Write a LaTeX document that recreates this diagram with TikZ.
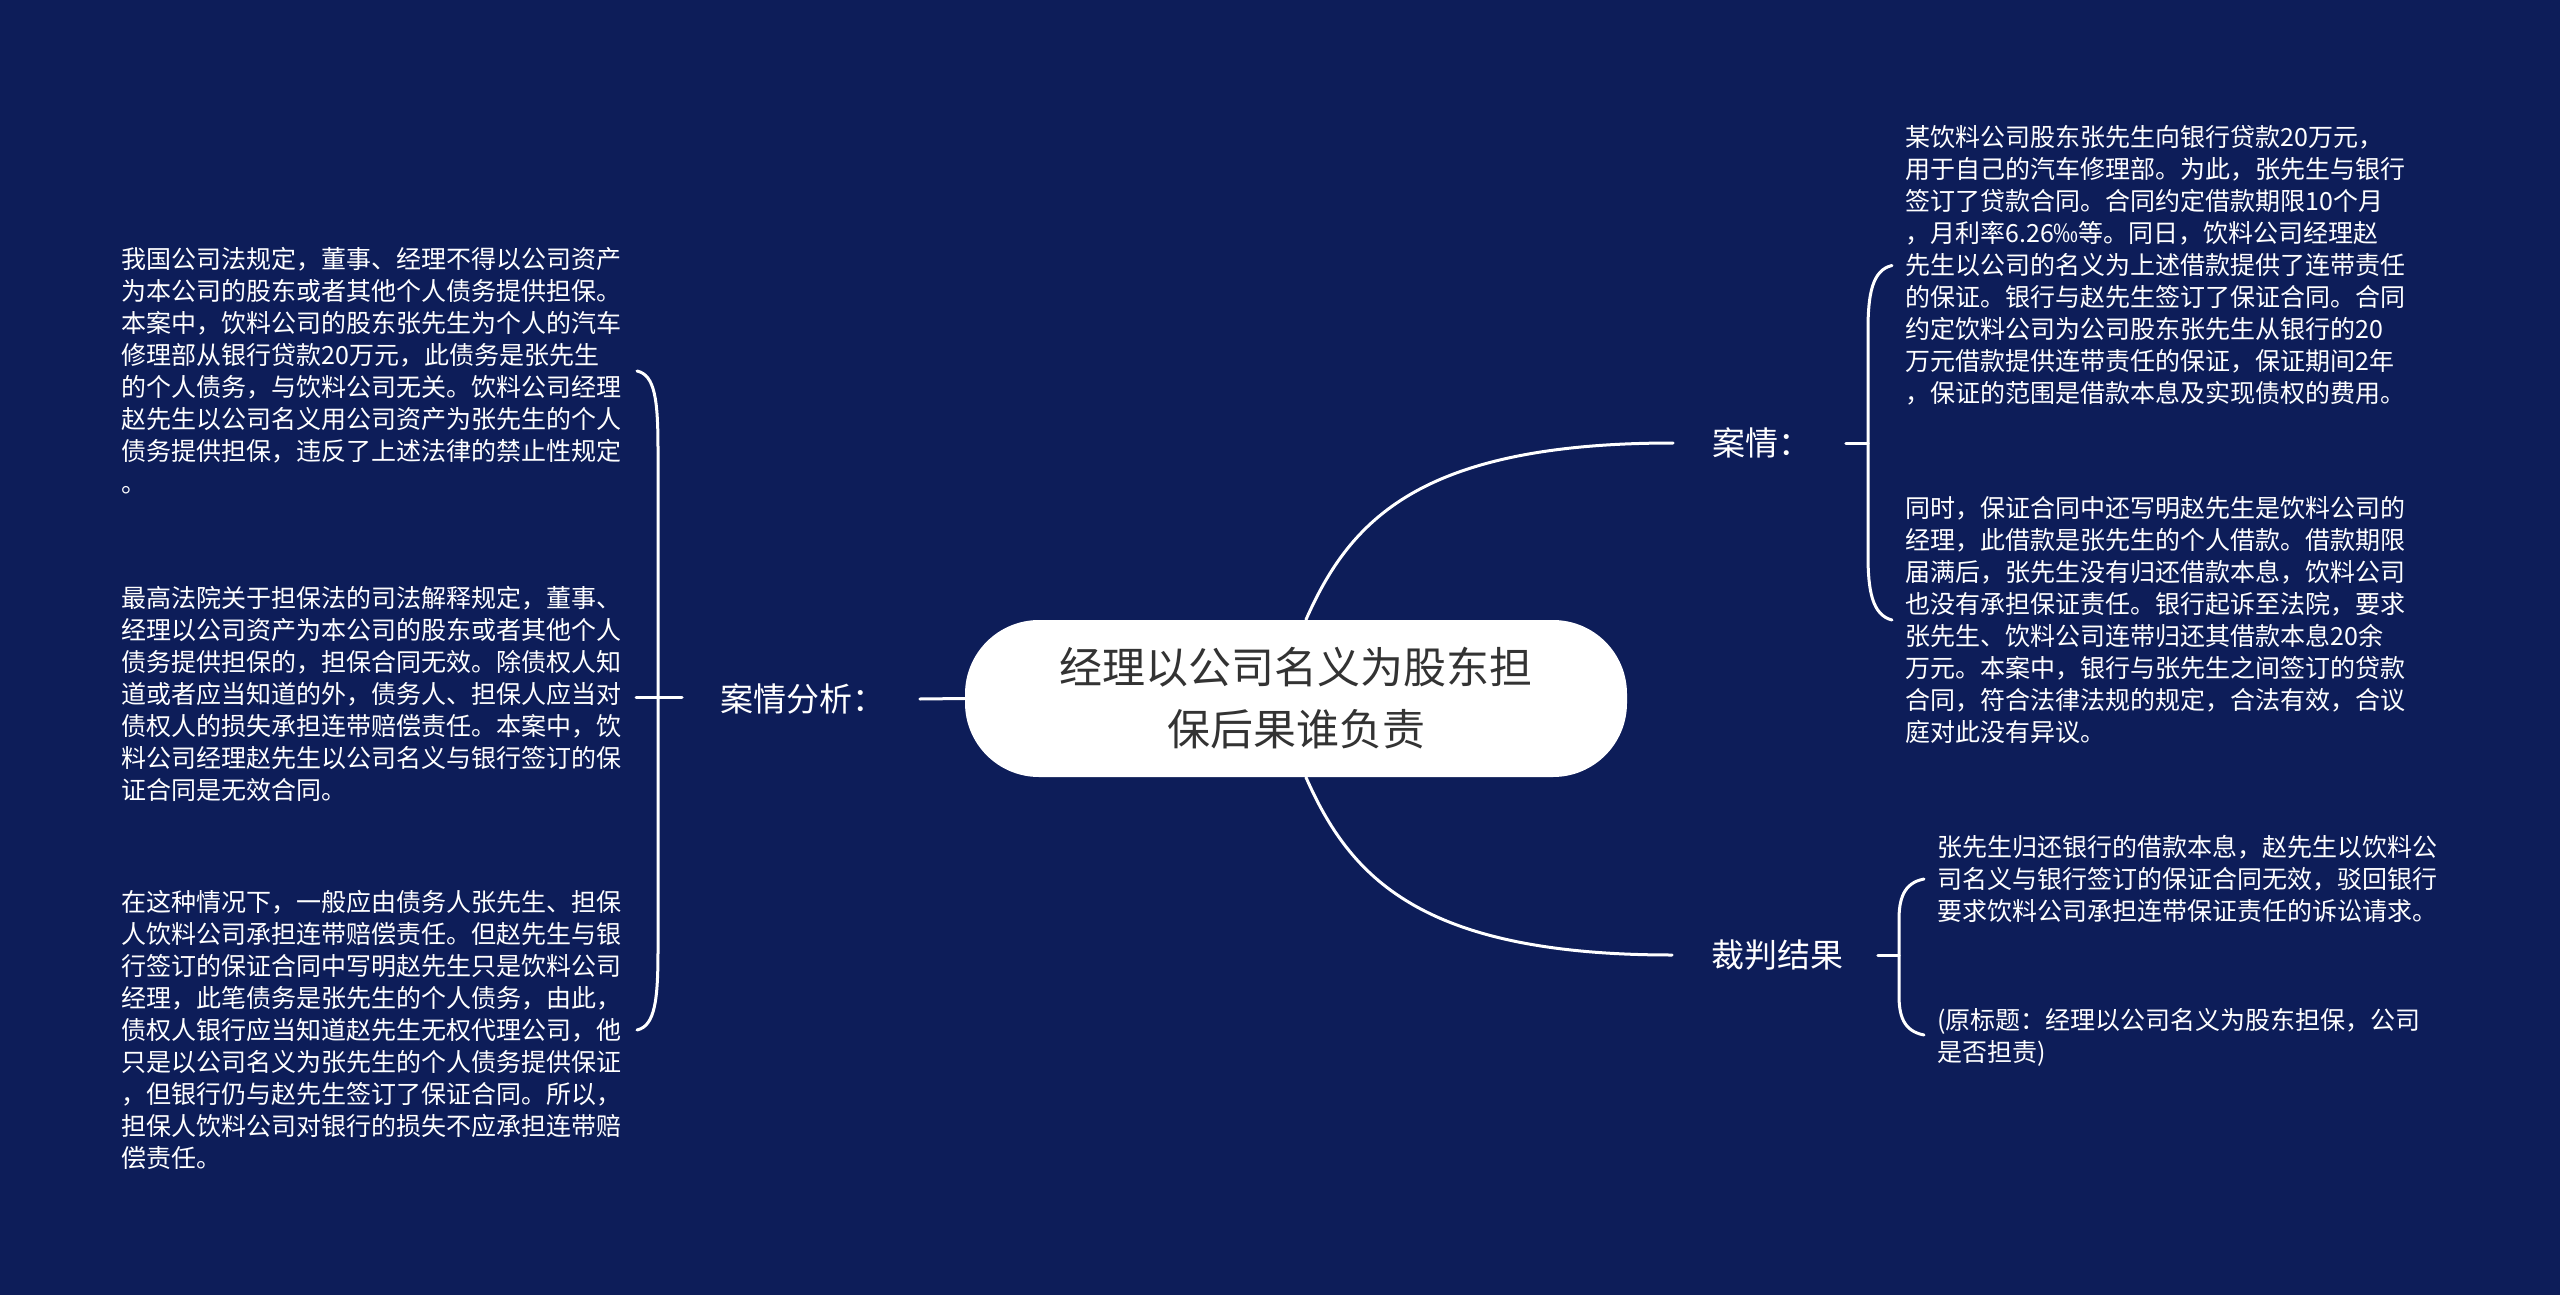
\documentclass[tikz,border=0pt]{standalone}
\usepackage{fontspec}
\setmainfont{Noto Sans CJK SC}
\usetikzlibrary{calc}
\definecolor{bg}{RGB}{13,29,89}
\definecolor{ink}{RGB}{51,51,51}
\begin{document}
\begin{tikzpicture}[x=0.5pt,y=-0.5pt,
  wire/.style={draw=white,line width=1.5pt,line cap=round},
  body/.style={text=white,align=left,inner sep=0pt,anchor=west,font=\fontsize{12.5pt}{16pt}\selectfont},
  lab/.style={text=white,inner sep=0pt,anchor=west,font=\fontsize{16.5pt}{20pt}\selectfont},
  rootbox/.style={fill=white,rounded corners=37pt,minimum width=331pt,minimum height=78.5pt,align=center,text=ink,font=\fontsize{21.5pt}{31pt}\selectfont,inner sep=0pt}]
\useasboundingbox (0,0) rectangle (2560,1295);
\fill[bg] (0,0) rectangle (2560,1295);

% labels
\node[lab] (l1) at (720,699) {案情分析：};
\node[lab] (r1) at (1712,443) {案情：};
\node[lab] (r2) at (1711,955) {裁判结果};

% text blocks
\node[body] (a1) at (121,371) {我国公司法规定，董事、经理不得以公司资产\\%
为本公司的股东或者其他个人债务提供担保。\\%
本案中，饮料公司的股东张先生为个人的汽车\\%
修理部从银行贷款20万元，此债务是张先生\\%
的个人债务，与饮料公司无关。饮料公司经理\\%
赵先生以公司名义用公司资产为张先生的个人\\%
债务提供担保，违反了上述法律的禁止性规定\\%
。};
\node[body] (a2) at (121,694) {最高法院关于担保法的司法解释规定，董事、\\%
经理以公司资产为本公司的股东或者其他个人\\%
债务提供担保的，担保合同无效。除债权人知\\%
道或者应当知道的外，债务人、担保人应当对\\%
债权人的损失承担连带赔偿责任。本案中，饮\\%
料公司经理赵先生以公司名义与银行签订的保\\%
证合同是无效合同。};
\node[body] (a3) at (121,1030) {在这种情况下，一般应由债务人张先生、担保\\%
人饮料公司承担连带赔偿责任。但赵先生与银\\%
行签订的保证合同中写明赵先生只是饮料公司\\%
经理，此笔债务是张先生的个人债务，由此，\\%
债权人银行应当知道赵先生无权代理公司，他\\%
只是以公司名义为张先生的个人债务提供保证\\%
，但银行仍与赵先生签订了保证合同。所以，\\%
担保人饮料公司对银行的损失不应承担连带赔\\%
偿责任。};
\node[body] (b1) at (1905,265.5) {某饮料公司股东张先生向银行贷款20万元，\\%
用于自己的汽车修理部。为此，张先生与银行\\%
签订了贷款合同。合同约定借款期限10个月\\%
，月利率6.26‰等。同日，饮料公司经理赵\\%
先生以公司的名义为上述借款提供了连带责任\\%
的保证。银行与赵先生签订了保证合同。合同\\%
约定饮料公司为公司股东张先生从银行的20\\%
万元借款提供连带责任的保证，保证期间2年\\%
，保证的范围是借款本息及实现债权的费用。};
\node[body] (b2) at (1905,620) {同时，保证合同中还写明赵先生是饮料公司的\\%
经理，此借款是张先生的个人借款。借款期限\\%
届满后，张先生没有归还借款本息，饮料公司\\%
也没有承担保证责任。银行起诉至法院，要求\\%
张先生、饮料公司连带归还其借款本息20余\\%
万元。本案中，银行与张先生之间签订的贷款\\%
合同，符合法律法规的规定，合法有效，合议\\%
庭对此没有异议。};
\node[body] (c1) at (1937,879) {张先生归还银行的借款本息，赵先生以饮料公\\%
司名义与银行签订的保证合同无效，驳回银行\\%
要求饮料公司承担连带保证责任的诉讼请求。};
\node[body] (c2) at (1937,1037) {(原标题：经理以公司名义为股东担保，公司\\%
是否担责)};

% root
\node[rootbox] (root) at (1296,698.5) {经理以公司名义为股东担\\保后果谁负责};

% bracket coordinates
\coordinate (la) at (637,371);
\coordinate (lb) at (636,697);
\coordinate (lc) at (637,1030);
\coordinate (ra) at (1892,265.5);
\coordinate (rb) at (1892,620);
\coordinate (rm) at (1868,443);
\coordinate (sa) at (1924,879);
\coordinate (sb) at (1924,1035);
\coordinate (sm) at (1899,955);

% connectors from root
\draw[wire] (root.west) -- ($(l1.east)+(34,0)$);
\draw[wire] ($(root.north)+(10,0)$) .. controls (1350,520) and (1420,443) .. ($(r1.west)+(-39,0)$);
\draw[wire] ($(root.south)+(10,0)$) .. controls (1350,877) and (1420,955) .. ($(r2.west)+(-39,0)$);

% left bracket
\draw[wire] ($(l1.west)+(-38,-2)$) -- (lb);
\draw[wire] (la) .. controls (655,375) and (658,400) .. (658,450) -- (658,950) .. controls (658,1000) and (655,1026) .. (lc);

% right bracket (案情)
\draw[wire] ($(r1.east)+(34,0)$) -- (rm);
\draw[wire] (ra) .. controls (1872,270) and (1868,295) .. (1868,330) -- (1868,555) .. controls (1868,590) and (1872,615) .. (rb);

% right bracket (裁判结果)
\draw[wire] ($(r2.east)+(34,0)$) -- (sm);
\draw[wire] (sa) .. controls (1903,883) and (1899,900) .. (1899,920) -- (1899,995) .. controls (1899,1015) and (1903,1031) .. (sb);
\end{tikzpicture}
\end{document}
